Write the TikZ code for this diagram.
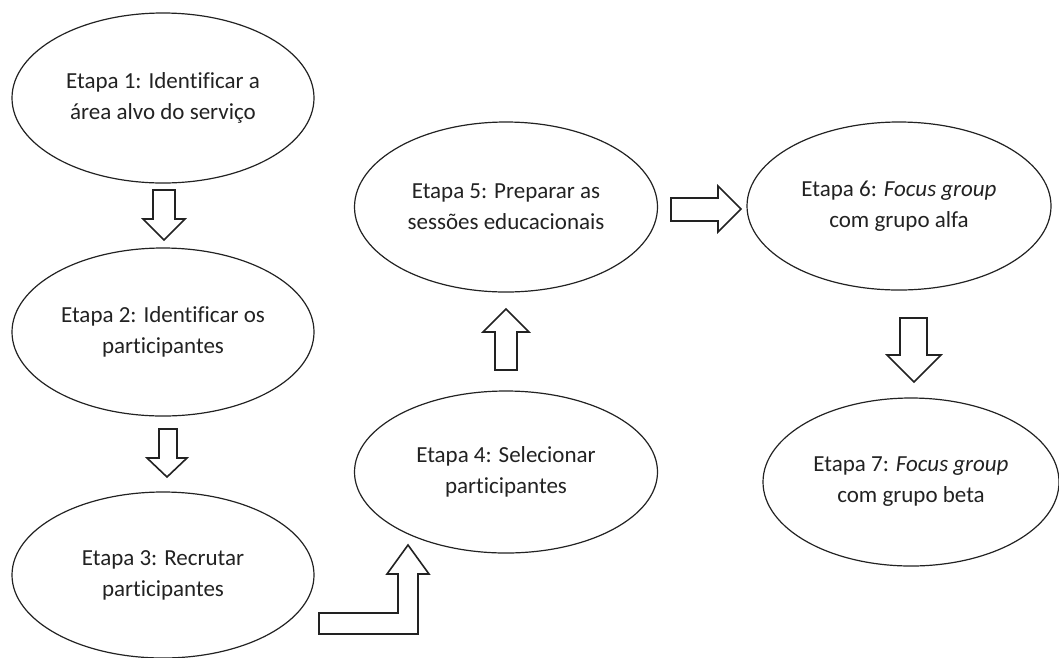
\documentclass[tikz,border=0pt]{standalone}
\usepackage{fontspec}
\setmainfont{Carlito}[Ligatures=NoCommon]
\usetikzlibrary{shapes.geometric}
\definecolor{ink}{HTML}{222222}
\begin{document}
\begin{tikzpicture}[x=1pt,y=-1pt,
  stage/.style={ellipse,draw=ink,line width=1.2pt,inner sep=0pt,align=center,
    text=ink,font=\fontsize{23}{31}\selectfont},
  blockarrow/.style={draw=ink,line width=1.6pt,fill=white,line join=miter}]
\useasboundingbox (0,0) rectangle (1059,657);

% stages
\node[stage,minimum width=302pt,minimum height=170pt] (s1) at (163,98)
  {Etapa 1: Identificar a\\área alvo do serviço};
\node[stage,minimum width=302pt,minimum height=168pt] (s2) at (163,332)
  {Etapa 2: Identificar os\\participantes};
\node[stage,minimum width=302pt,minimum height=166pt] (s3) at (163,575)
  {Etapa 3: Recrutar\\participantes};
\node[stage,minimum width=303pt,minimum height=162pt] (s4) at (506,472)
  {Etapa 4: Selecionar\\participantes};
\node[stage,minimum width=303pt,minimum height=170pt] (s5) at (506,207)
  {Etapa 5: Preparar as\\sessões educacionais};
\node[stage,minimum width=304pt,minimum height=168pt] (s6) at (899,206)
  {Etapa 6: \textit{Focus group}\\com grupo alfa};
\node[stage,minimum width=296pt,minimum height=168pt] (s7) at (911,482)
  {Etapa 7: \textit{Focus group}\\com grupo beta};

% block arrows between stages
\draw[blockarrow] (153,190) -- (175,190) -- (175,219) -- (185,219) -- (164,240)
  -- (143,219) -- (153,219) -- cycle;
\draw[blockarrow] (159,429) -- (177,429) -- (177,458) -- (187,458) -- (167,477)
  -- (147,458) -- (159,458) -- cycle;
\draw[blockarrow] (319,613) -- (398,613) -- (398,574) -- (387,574) -- (408,545)
  -- (429,574) -- (418,574) -- (418,634) -- (319,634) -- cycle;
\draw[blockarrow] (495,370) -- (495,332) -- (483,332) -- (506,309) -- (529,332)
  -- (517,332) -- (517,370) -- cycle;
\draw[blockarrow] (671,198) -- (718,198) -- (718,186) -- (741,209) -- (718,232)
  -- (718,221) -- (671,221) -- cycle;
\draw[blockarrow] (900,318) -- (927,318) -- (927,355) -- (941,355) -- (914,382)
  -- (887,355) -- (900,355) -- cycle;
\end{tikzpicture}
\end{document}
